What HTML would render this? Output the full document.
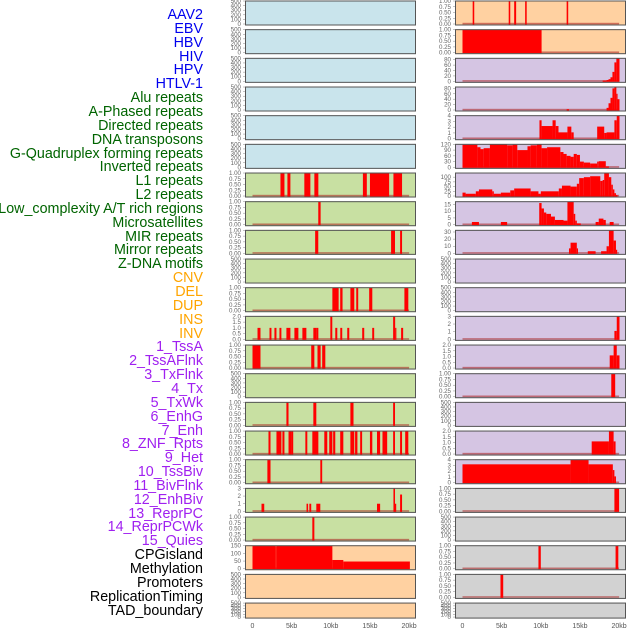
<!DOCTYPE html>
<html><head><meta charset="utf-8"><style>
html,body{margin:0;padding:0;background:#fff;}
#wrap{position:relative;width:630px;height:630px;overflow:hidden;}
.lab{position:absolute;right:427px;font-family:"Liberation Sans",sans-serif;font-size:14.3px;line-height:14px;white-space:nowrap;}
svg{position:absolute;left:0;top:0;}
</style></head><body>
<div id="wrap">
<div id="labels"></div>
<svg id="chart" width="630" height="630"></svg>
</div>
<script>
const labelNames = ["AAV2","EBV","HBV","HIV","HPV","HTLV-1","Alu repeats","A-Phased repeats","Directed repeats","DNA transposons","G-Quadruplex forming repeats","Inverted repeats","L1 repeats","L2 repeats","Low_complexity A/T rich regions","Microsatellites","MIR repeats","Mirror repeats","Z-DNA motifs","CNV","DEL","DUP","INS","INV","1_TssA","2_TssAFlnk","3_TxFlnk","4_Tx","5_TxWk","6_EnhG","7_Enh","8_ZNF_Rpts","9_Het","10_TssBiv","11_BivFlnk","12_EnhBiv","13_ReprPC","14_ReprPCWk","15_Quies","CPGisland","Methylation","Promoters","ReplicationTiming","TAD_boundary"];
const labelGroups = [0,0,0,0,0,0,1,1,1,1,1,1,1,1,1,1,1,1,1,2,2,2,2,2,3,3,3,3,3,3,3,3,3,3,3,3,3,3,3,4,4,4,4,4];
const groupColors = ["#0000ee","#006400","#ffa500","#a020f0","#000000"];

const xTicks = [0,5,10,15,20];
const xTickLabels = ["0","5kb","10kb","15kb","20kb"];

const ticksEmpty = [0,100,200,300,400,500];
const ticksUnit = [0,0.25,0.5,0.75,1];
const ticksTwo = [0,0.5,1,1.5,2];
const ticksThree = [0,1,2,3];
const ticksFour = [0,1,2,3,4];

const L06 = [[3.57,4.08,1],[4.46,4.84,1],[6.62,7.39,1],[7.9,8.41,1],[14.1,14.6,1],[15.0,17.45,1],[18.0,19.1,1]];
const L07 = [[8.4,8.7,1]];
const L08 = [[8.0,8.4,1],[17.7,18.2,1],[18.85,19.1,1]];
const L10 = [[10.2,11.0,1],[11.2,11.5,1],[12.5,13.0,1],[13.25,13.5,1],[14.9,15.3,1],[19.4,19.9,1]];
const L11 = [[0.64,1.02,1],[2.17,2.42,1],[2.8,3.06,1],[3.44,3.69,1],[4.33,4.84,1],[5.35,5.86,1],[6.37,6.88,1],[7.77,8.15,1],[8.15,8.41,1],[9.94,10.19,2],[10.57,10.83,1],[11.21,11.46,1],[12.1,12.36,1],[14.01,14.27,1],[15.29,15.54,1],[17.96,18.22,2],[18.22,18.34,1],[18.98,19.24,1]];
const L12 = [[0,1.02,1],[7.5,7.9,1],[8.3,8.7,1],[8.9,9.3,1]];
const L14 = [[4.33,4.6,1],[7.77,8.15,1],[12.5,12.9,1],[17.96,18.2,1]];
const L15 = [[2.04,2.3,1],[3.06,3.69,1],[3.82,4.08,1],[4.6,4.97,1],[4.97,5.2,1],[6.75,7.0,1],[7.64,8.41,1],[9.17,9.55,1],[9.8,10.2,1],[10.3,10.57,1],[11.2,11.6,1],[12.5,13.0,1],[13.1,13.4,1],[13.75,14.0,1],[15.0,15.3,1],[15.9,16.3,1],[16.6,17.2,1],[17.96,18.2,1],[18.85,19.1,1],[19.5,19.9,1]];
const L16 = [[1.9,2.3,1],[8.66,8.9,1]];
const L17 = [[1.15,1.5,1],[6.9,7.1,1],[7.26,7.5,1],[8.15,8.66,1],[15.9,16.3,1],[18.0,18.2,3],[18.2,18.34,1],[18.85,19.1,2.2]];
const L18 = [[7.64,7.9,1]];
const L19 = [[0,2.9,150],[2.9,3.1,147],[3.1,10.2,150],[10.2,11.6,57],[11.6,20.1,47]];

const R00 = [[1.3,1.5,1],[5.9,6.1,1],[6.6,6.85,1],[8.0,8.2,1],[13.3,13.5,1]];
const R01 = [[0,10.1,1]];
const R02 = [[17.9,18.4,3],[18.4,18.65,5],[18.65,18.9,8],[18.9,19.15,15],[19.15,19.4,35],[19.4,19.65,70],[19.65,20.05,85]];
const R03 = [[13.3,13.6,3],[18.4,18.65,8],[18.65,18.9,25],[18.9,19.15,45],[19.15,19.4,80],[19.4,19.65,85],[19.65,19.8,60],[19.8,20.05,40]];
const R04 = [[9.83,10.1,3.2],[10.1,11.5,2.2],[11.5,11.9,3.2],[11.9,12.26,2.2],[12.26,13.4,1.1],[13.4,13.9,2.1],[13.9,14.2,1.1],[17.2,18.1,2.1],[18.1,18.4,1],[18.4,19.4,1.1],[19.4,19.7,3.2],[19.7,20.05,4]];
const R05 = [[0,1.9,118],[1.9,2.3,105],[2.3,2.7,95],[2.7,3.5,100],[3.5,5.7,120],[5.7,6.4,115],[6.4,7.0,118],[7.0,8.3,90],[8.3,8.7,110],[8.7,9.5,115],[9.5,10.1,120],[10.1,10.8,100],[10.8,12.5,105],[12.5,12.9,80],[12.9,13.3,70],[13.3,13.8,60],[13.8,14.2,55],[14.2,14.6,70],[14.6,15.0,65],[15.0,15.5,30],[15.5,16.3,25],[16.3,17.2,20],[17.2,17.4,30],[17.4,18.3,32],[18.3,18.7,5]];
const R06 = [[0,0.4,18],[0.4,1.7,12],[1.7,2.1,25],[2.1,3.8,35],[3.8,4.0,25],[4.0,4.9,12],[4.9,6.1,18],[6.1,6.6,30],[6.6,8.7,40],[8.7,9.7,25],[9.7,10.0,12],[10.0,12.3,25],[12.3,12.7,40],[12.7,13.8,55],[13.8,14.6,50],[14.6,14.9,65],[14.9,15.5,95],[15.5,16.3,100],[16.3,17.6,105],[17.6,17.9,80],[17.9,18.1,85],[18.1,18.7,120],[18.7,19.0,100],[19.0,19.2,60],[19.2,19.4,35],[19.4,19.6,15],[19.6,19.8,5]];
const R07 = [[1.2,2.1,2],[4.9,5.7,2],[9.8,10.1,16],[10.1,10.4,12],[10.4,10.7,9],[10.7,11.3,8],[11.3,11.8,6],[11.8,12.9,3.5],[12.9,13.4,3],[13.4,14.2,17],[14.2,14.4,8],[14.4,14.6,3],[14.6,15.1,1],[17.0,17.4,2],[17.4,18.0,4.5],[18.0,18.3,3.5],[18.8,19.3,2]];
const R08 = [[13.6,13.8,7],[13.8,14.6,15],[14.6,14.7,7],[16.0,17.0,3],[17.7,18.4,3],[18.4,18.7,10],[18.7,19.3,32],[19.3,19.6,18],[19.6,19.7,5]];
const R11 = [[19.4,19.7,1.1],[19.7,20.05,3]];
const R12 = [[18.8,19.3,1.1],[19.3,19.7,2],[19.7,20.05,1.1]];
const R13 = [[19.0,19.5,1]];
const R15 = [[16.5,18.7,1.1],[18.7,19.3,2],[19.3,19.55,1.1]];
const R16 = [[0,13.8,3.2],[13.8,16.1,4],[16.1,19.2,3.2],[19.2,19.4,2.2],[19.4,19.6,1.1]];
const R17 = [[19.4,20.0,1]];
const R19 = [[9.7,10.0,1],[19.55,19.9,1]];
const R20 = [[4.85,5.2,1]];

const BLUE="#c9e4ec",GREEN="#c8e0a2",PEACH="#ffd1a1",LAV="#d5c5e3",GRAY="#d2d2d2";
const leftTracks = [
 [null,500,ticksEmpty,BLUE],[null,500,ticksEmpty,BLUE],[null,500,ticksEmpty,BLUE],[null,500,ticksEmpty,BLUE],[null,500,ticksEmpty,BLUE],[null,500,ticksEmpty,BLUE],
 [L06,1,ticksUnit,GREEN],[L07,1,ticksUnit,GREEN],[L08,1,ticksUnit,GREEN],[null,500,ticksEmpty,GREEN],[L10,1,ticksUnit,GREEN],[L11,2,ticksTwo,GREEN],[L12,1,ticksUnit,GREEN],[null,500,ticksEmpty,GREEN],[L14,1,ticksUnit,GREEN],[L15,1,ticksUnit,GREEN],[L16,1,ticksUnit,GREEN],[L17,3,ticksThree,GREEN],[L18,1,ticksUnit,GREEN],
 [L19,150,[0,50,100,150],PEACH],[null,500,ticksEmpty,PEACH],[null,500,ticksEmpty,PEACH]
];
const rightTracks = [
 [R00,1,ticksUnit,PEACH],[R01,1,ticksUnit,PEACH],
 [R02,85,[0,20,40,60,80],LAV],[R03,85,[0,20,40,60,80],LAV],[R04,4,ticksFour,LAV],[R05,120,[0,30,60,90,120],LAV],[R06,122,[0,25,50,75,100],LAV],[R07,17,[0,5,10,15],LAV],[R08,32.3,[0,10,20,30],LAV],
 [null,500,ticksEmpty,LAV],[null,500,ticksEmpty,LAV],[R11,3,ticksThree,LAV],[R12,2,ticksTwo,LAV],[R13,1,ticksUnit,LAV],[null,500,ticksEmpty,LAV],[R15,2,ticksTwo,LAV],[R16,4,ticksFour,LAV],
 [R17,1,ticksUnit,GRAY],[null,500,ticksEmpty,GRAY],[R19,1,ticksUnit,GRAY],[R20,1,ticksUnit,GRAY],[null,500,ticksEmpty,GRAY]
];

const labDiv=document.getElementById('labels');
labelNames.forEach((n,i)=>{
  const d=document.createElement('div');
  d.className='lab';
  
  
  d.style.top=(8+i*13.85)+'px';
  d.style.color=groupColors[labelGroups[i]];
  d.textContent=n;
  labDiv.appendChild(d);
});

const NS="http://www.w3.org/2000/svg";
const svg=document.getElementById('chart');
function mk(tag,attrs,parent){const e=document.createElementNS(NS,tag);for(const k in attrs)e.setAttribute(k,attrs[k]);(parent||svg).appendChild(e);return e;}
const PITCH=28.67;
function fmt(t,ticks){
  const m=Math.max(...ticks);
  if(m===1) return t.toFixed(2);
  if(m===2) return t.toFixed(1);
  return String(t);
}
function drawColumn(tracks,boxX,boxW,x0,col){
  const kb=v=>x0+v*7.83;
  tracks.forEach((tr,i)=>{
    const [segs,ymax,ticks,bg]=tr;
    const top=0.5+i*PITCH;
    const h=(i===21)?16:25;
    const g=mk('g',{});
    
    
    const bot=top+h-1.5;
    const ys=v=>bot-(v/ymax)*(h-2);
    mk('rect',{x:boxX,y:top,width:boxW,height:h,fill:bg,stroke:'none'},g);
    ticks.forEach(t=>{
      const tx=mk('text',{x:boxX-4,y:ys(t)+2,'font-size':'6.2','font-family':'Liberation Sans, sans-serif',fill:'#666','text-anchor':'end'},g);
      tx.textContent=fmt(t,ticks);
      mk('line',{x1:boxX-2,x2:boxX,y1:ys(t),y2:ys(t),stroke:'#888','stroke-width':0.5},g);
    });
    if(segs){
      mk('rect',{x:kb(0),y:bot-1.2,width:kb(20)-kb(0),height:1.6,fill:'rgba(170,30,30,0.55)'},g);
      segs.forEach(s=>{
        const b=mk('rect',{x:kb(s[0]),y:ys(s[2]),width:Math.max(1.2,kb(s[1])-kb(s[0])),height:bot-ys(s[2])+0.5,fill:'#ff0000'},g);
        
        
      });
    }
    mk('rect',{x:boxX+0.5,y:top+0.5,width:boxW-1,height:h-1,fill:'none',stroke:'#555','stroke-width':1},g);
  });
  xTicks.forEach((t,j)=>{
    const tx=mk('text',{x:kb(t),y:628,'font-size':'7','font-family':'Liberation Sans, sans-serif',fill:'#555','text-anchor':'middle'});
    
    
    tx.textContent=xTickLabels[j];
  });
}
drawColumn(leftTracks,245,171,252.5,'left');
drawColumn(rightTracks,455,171,462.5,'right');
</script>
</body></html>
